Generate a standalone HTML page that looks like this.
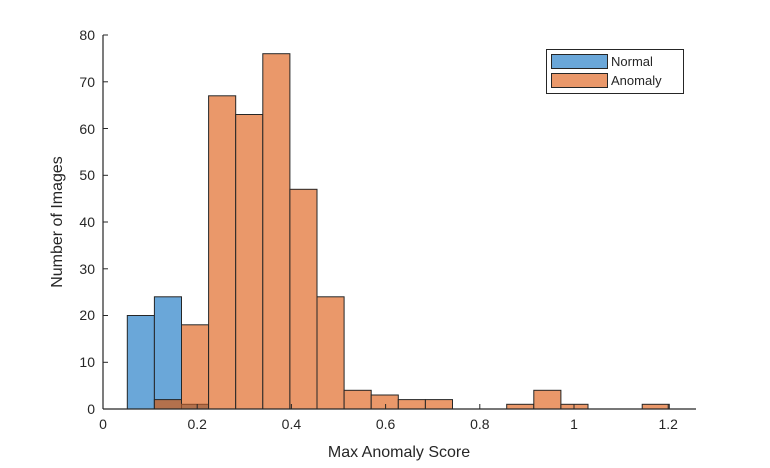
<!DOCTYPE html><html><head><style>body{margin:0;background:#fff}</style></head><body>
<svg width="770" height="463" xmlns="http://www.w3.org/2000/svg" font-family="Liberation Sans, sans-serif">
<rect width="770" height="463" fill="#fff"/>
<g stroke="#262626" stroke-width="1">
<!-- Normal -->
<rect x="127.3" y="315.5" width="27.1" height="93.5" fill="#6aa7d9"/>
<rect x="154.4" y="296.8" width="27.1" height="112.2" fill="#6aa7d9"/>
<!-- Anomaly -->
<rect x="154.4" y="399.6" width="27.1" height="9.4" fill="#b3714d"/>
<rect x="181.5" y="324.8" width="27.1" height="84.2" fill="#ea986a"/>
<rect x="181.5" y="404.3" width="27.1" height="4.7" fill="#b3714d" stroke="#8a4a2a"/>
<rect x="208.6" y="95.8" width="27.1" height="313.2" fill="#ea986a"/>
<rect x="235.7" y="114.5" width="27.1" height="294.5" fill="#ea986a"/>
<rect x="262.8" y="53.7" width="27.1" height="355.3" fill="#ea986a"/>
<rect x="289.9" y="189.3" width="27.1" height="219.7" fill="#ea986a"/>
<rect x="317" y="296.8" width="27.1" height="112.2" fill="#ea986a"/>
<rect x="344.1" y="390.3" width="27.1" height="18.7" fill="#ea986a"/>
<rect x="371.2" y="395" width="27.1" height="14" fill="#ea986a"/>
<rect x="398.3" y="399.6" width="27.1" height="9.4" fill="#ea986a"/>
<rect x="425.4" y="399.6" width="27.1" height="9.4" fill="#ea986a"/>
<rect x="506.7" y="404.3" width="27.1" height="4.7" fill="#ea986a"/>
<rect x="533.8" y="390.3" width="27.1" height="18.7" fill="#ea986a"/>
<rect x="560.9" y="404.3" width="27.1" height="4.7" fill="#ea986a"/>
<rect x="642.2" y="404.3" width="27.1" height="4.7" fill="#ea986a"/>
</g>
<g stroke="#262626" stroke-width="1.2" fill="none">
<line x1="103" y1="409" x2="696" y2="409"/>
<line x1="103" y1="35" x2="103" y2="409"/>
</g>
<g stroke="#262626" stroke-width="1">
<line x1="103" y1="409" x2="103" y2="404"/><line x1="197.2" y1="409" x2="197.2" y2="404"/><line x1="291.4" y1="409" x2="291.4" y2="404"/><line x1="385.6" y1="409" x2="385.6" y2="404"/><line x1="479.8" y1="409" x2="479.8" y2="404"/><line x1="574" y1="409" x2="574" y2="404"/><line x1="668.2" y1="409" x2="668.2" y2="404"/>
<line x1="103" y1="362.3" x2="108" y2="362.3"/><line x1="103" y1="315.5" x2="108" y2="315.5"/><line x1="103" y1="268.8" x2="108" y2="268.8"/><line x1="103" y1="222" x2="108" y2="222"/><line x1="103" y1="175.3" x2="108" y2="175.3"/><line x1="103" y1="128.5" x2="108" y2="128.5"/><line x1="103" y1="81.8" x2="108" y2="81.8"/><line x1="103" y1="35" x2="108" y2="35"/>
</g>
<g font-size="14" fill="#262626" text-anchor="middle">
<text x="103" y="429">0</text><text x="197.2" y="429">0.2</text><text x="291.4" y="429">0.4</text><text x="385.6" y="429">0.6</text><text x="479.8" y="429">0.8</text><text x="574" y="429">1</text><text x="668.2" y="429">1.2</text>
</g>
<g font-size="14" fill="#262626" text-anchor="end">
<text x="95" y="414">0</text><text x="95" y="367">10</text><text x="95" y="320">20</text><text x="95" y="274">30</text><text x="95" y="227">40</text><text x="95" y="180">50</text><text x="95" y="134">60</text><text x="95" y="87">70</text><text x="95" y="40">80</text>
</g>
<text x="399" y="457" font-size="16" fill="#262626" text-anchor="middle">Max Anomaly Score</text>
<text transform="translate(62,222) rotate(-90)" font-size="16" fill="#262626" text-anchor="middle">Number of Images</text>
<rect x="546.5" y="49.5" width="137" height="44" fill="#fff" stroke="#262626"/>
<rect x="551.5" y="54.5" width="56" height="14" fill="#6aa7d9" stroke="#262626"/>
<rect x="551.5" y="73.5" width="56" height="14" fill="#ea986a" stroke="#262626"/>
<text x="611" y="66" font-size="13" fill="#262626">Normal</text>
<text x="611" y="85" font-size="13" fill="#262626">Anomaly</text>
</svg>
</body></html>
